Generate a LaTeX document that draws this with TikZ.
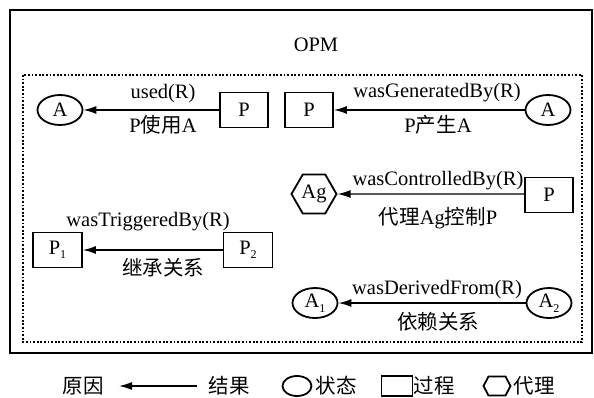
\documentclass[tikz,border=0pt]{standalone}
\usepackage{fontspec}
\setmainfont{Liberation Serif}
\newfontfamily\cjk{Noto Sans CJK SC}
\newcommand{\zh}[1]{{\cjk #1}}
\newcommand{\idx}[1]{\raisebox{-4.5pt}{\fontsize{12}{12}\selectfont #1}}
\usetikzlibrary{shapes.geometric,arrows.meta}

\begin{document}
\begin{tikzpicture}[x=1pt,y=-1pt,
  every node/.style={font=\fontsize{20.5}{22}\selectfont, inner sep=0pt},
  shapeline/.style={draw, line width=1.8pt},
  state/.style={ellipse, shapeline, minimum width=45pt, minimum height=30pt},
  proc/.style={rectangle, shapeline, minimum width=48pt, minimum height=35pt},
  agent/.style={regular polygon, regular polygon sides=6, shapeline, minimum size=45pt},
  rel/.style={line width=1.4pt, -{Latex[length=13pt,width=8pt]}},
  frame/.style={line width=2pt},
  inner frame/.style={line width=2pt, dash pattern=on 1.8pt off 1.8pt}
]
\useasboundingbox (0,0) rectangle (594,398);

% frames
\draw[frame] (10,10) rectangle (592,353);
\draw[inner frame] (23,75) rectangle (582,342);
\node (title) at (316,45) {OPM};

% used
\node[state] (a1) at (60,110) {A};
\node[proc]  (p1) at (244,110) {P};
\draw[rel] (p1) -- (a1);
\node (l1a) at (163,94) {used(R)};
\node (l1b) at (163,125) {P\zh{使用}A};

% wasGeneratedBy
\node[proc]  (p2) at (309,110) {P};
\node[state] (a2) at (548,110) {A};
\draw[rel] (a2) -- (p2);
\node (l2a) at (437,93) {wasGeneratedBy(R)};
\node (l2b) at (438,125) {P\zh{产生}A};

% wasControlledBy
\node[agent] (ag) at (314,194) {Ag};
\node[proc]  (p3) at (549,195) {P};
\draw[rel] (p3.west |- ag) -- (ag);
\node (l3a) at (438,181) {wasControlledBy(R)};
\node (l3b) at (438,218) {\zh{代理}Ag\zh{控制}P};

% wasTriggeredBy
\node[proc, minimum width=49pt] (pa) at (57.5,250) {P\idx{1}};
\node[proc, minimum width=49pt] (pb) at (248,250) {P\idx{2}};
\draw[rel] (pb) -- (pa);
\node (l4a) at (148,222) {wasTriggeredBy(R)};
\node (l4b) at (163,268) {\zh{继承关系}};

% wasDerivedFrom
\node[state] (aa) at (315,303) {A\idx{1}};
\node[state] (ab) at (549,303) {A\idx{2}};
\draw[rel] (ab) -- (aa);
\node (l5a) at (437,290) {wasDerivedFrom(R)};
\node (l5b) at (438,322) {\zh{依赖关系}};

% legend
\node (cause) at (83,386) {\zh{原因}};
\coordinate (legR) at (197,386);
\coordinate (legL) at (119,386);
\draw[rel] (legR) -- (legL);
\node (effect) at (229,386) {\zh{结果}};
\node[ellipse, shapeline, minimum width=29pt, minimum height=20pt] (legS) at (297,386) {};
\node (legSt) at (336,386) {\zh{状态}};
\node[rectangle, shapeline, minimum width=31pt, minimum height=20pt] (legP) at (397,386) {};
\node (legPt) at (434,386) {\zh{过程}};
\coordinate (legH) at (497,386);
\draw[shapeline, line join=miter] (legH) ++(-13.5,0) -- ++(5,-9.5) -- ++(17,0) -- ++(5,9.5) -- ++(-5,9.5) -- ++(-17,0) -- cycle;
\node (legHt) at (534,386) {\zh{代理}};
\end{tikzpicture}
\end{document}
